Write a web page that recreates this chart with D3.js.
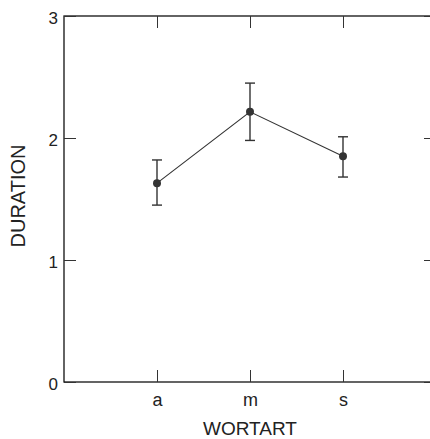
<!DOCTYPE html>
<html><head><meta charset="utf-8">
<script src="https://cdn.jsdelivr.net/npm/d3@7"></script>
<style>body{margin:0;background:#fff}svg{display:block}text{font-family:"Liberation Sans",Arial,sans-serif;fill:#222}</style>
</head><body><svg id="c" width="430" height="439"></svg>
<script>
const categories = ["a","m","s"];
const means = [1.63, 2.215, 1.85];
const upper = [1.82, 2.45, 2.01];
const lower = [1.45, 1.98, 1.68];
const yTicks = [0,1,2,3];
const xLabel = "WORTART";
const yLabel = "DURATION";

const svg = d3.select("#c");
const L=64, R=436, T=16, B=382;
const x = d3.scaleLinear().domain([0, categories.length+1]).range([L,R]);
const y = d3.scaleLinear().domain([0,3]).range([B,T]);
const col = "#333";

// frame
svg.append("rect").attr("x",L).attr("y",T).attr("width",R-L).attr("height",B-T)
  .attr("fill","none").attr("stroke","#111").attr("stroke-width",1.3);

const tickLen = 12;
const xAxisB = d3.axisBottom(x).tickValues(categories.map((d,i)=>i+1)).tickSizeInner(-tickLen).tickSizeOuter(0)
  .tickPadding(11).tickFormat((d)=>categories[d-1]);
const gb = svg.append("g").attr("transform",`translate(0,${B})`).call(xAxisB);
gb.select(".domain").remove();
gb.selectAll("line").attr("stroke",col);
gb.selectAll("text").attr("font-size",18).attr("fill","#222");

const gt = svg.append("g").attr("transform",`translate(0,${T})`)
  .call(d3.axisTop(x).tickValues(categories.map((d,i)=>i+1)).tickSizeInner(-tickLen).tickSizeOuter(0).tickFormat(""));
gt.select(".domain").remove(); gt.selectAll("line").attr("stroke",col);

const gl = svg.append("g").attr("transform",`translate(${L},0)`)
  .call(d3.axisLeft(y).tickValues(yTicks).tickSizeInner(-tickLen).tickSizeOuter(0).tickPadding(6).tickFormat(d3.format("d")));
gl.select(".domain").remove(); gl.selectAll("line").attr("stroke",col);
gl.selectAll("text").attr("font-size",17).attr("fill","#222").attr("dy","0.45em");
const gr = svg.append("g").attr("transform",`translate(${R},0)`)
  .call(d3.axisRight(y).tickValues(yTicks).tickSizeInner(-tickLen).tickSizeOuter(0).tickFormat(""));
gr.select(".domain").remove(); gr.selectAll("line").attr("stroke",col);

svg.append("text").attr("x", x(2)).attr("y",435).attr("text-anchor","middle")
  .attr("font-size",19).text(xLabel);
svg.append("text").attr("transform",`translate(25,196) rotate(-90)`).attr("text-anchor","middle")
  .attr("font-size",20).text(yLabel);

const pts = categories.map((c,i)=>({x:i+1, m:means[i], u:upper[i], l:lower[i]}));
svg.append("path").datum(pts).attr("fill","none").attr("stroke",col).attr("stroke-width",1.1)
  .attr("d", d3.line().x(d=>x(d.x)).y(d=>y(d.m)));
const eb = svg.append("g").attr("stroke",col).attr("stroke-width",1.4);
pts.forEach(d=>{
  eb.append("line").attr("x1",x(d.x)).attr("x2",x(d.x)).attr("y1",y(d.u)).attr("y2",y(d.l));
  eb.append("line").attr("x1",x(d.x)-5).attr("x2",x(d.x)+5).attr("y1",y(d.u)).attr("y2",y(d.u));
  eb.append("line").attr("x1",x(d.x)-5).attr("x2",x(d.x)+5).attr("y1",y(d.l)).attr("y2",y(d.l));
});
svg.append("g").selectAll("circle").data(pts).join("circle")
  .attr("cx",d=>x(d.x)).attr("cy",d=>y(d.m)).attr("r",4).attr("fill",col);
</script></body></html>
